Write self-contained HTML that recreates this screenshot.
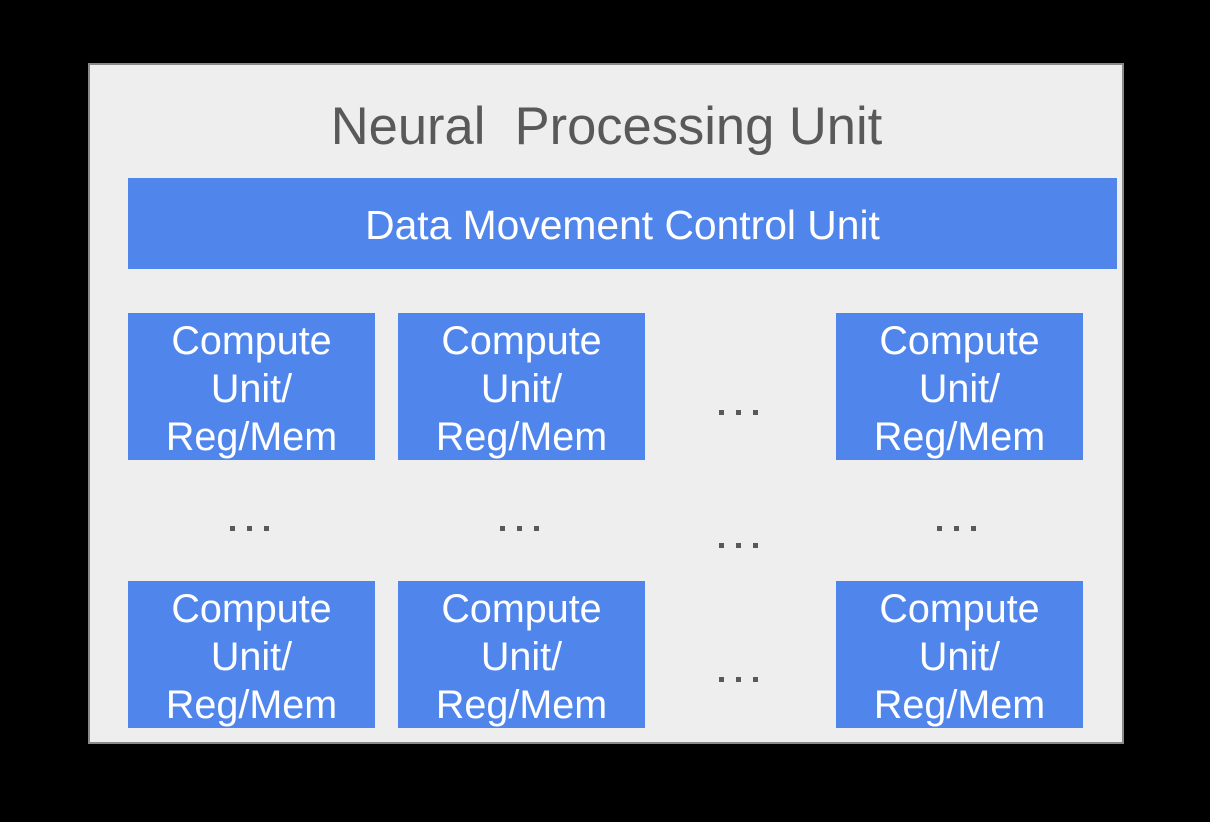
<!DOCTYPE html>
<html><head><style>
body{margin:0;background:#000;width:1210px;height:822px;position:relative;overflow:hidden;font-family:"Liberation Sans",sans-serif}
.outer{position:absolute;left:88px;top:63px;width:1032px;height:677px;background:#eeeeee;border:2px solid #8a8a8a}
.t{position:absolute;left:88px;width:1037px;top:96px;text-align:center;font-size:52.5px;color:#595959;white-space:pre}
.b{position:absolute;background:#5086ec;color:#fff;text-align:center}
.dm{left:128px;top:178px;width:989px;height:91px;line-height:95px;font-size:40.8px}
.cu{width:247px;height:147px;font-size:39.5px;line-height:48px;padding-top:4px;box-sizing:border-box}
.d{position:absolute;width:46px;height:5px}
.d i{position:absolute;top:0;width:5px;height:5px;background:#595959}
.d i:nth-child(1){left:0}.d i:nth-child(2){left:17px}.d i:nth-child(3){left:34px}
</style></head><body>
<div class="outer"></div>
<div class="t">Neural  Processing Unit</div>
<div class="b dm">Data Movement Control Unit</div>
<div class="b cu" style="left:128px;top:313px">Compute<br>Unit/<br>Reg/Mem</div>
<div class="b cu" style="left:398px;top:313px">Compute<br>Unit/<br>Reg/Mem</div>
<div class="b cu" style="left:836px;top:313px">Compute<br>Unit/<br>Reg/Mem</div>
<div class="b cu" style="left:128px;top:581px">Compute<br>Unit/<br>Reg/Mem</div>
<div class="b cu" style="left:398px;top:581px">Compute<br>Unit/<br>Reg/Mem</div>
<div class="b cu" style="left:836px;top:581px">Compute<br>Unit/<br>Reg/Mem</div>
<div class="d" style="left:719px;top:410px"><i></i><i></i><i></i></div>
<div class="d" style="left:230px;top:526px"><i></i><i></i><i></i></div>
<div class="d" style="left:500px;top:526px"><i></i><i></i><i></i></div>
<div class="d" style="left:719px;top:543px"><i></i><i></i><i></i></div>
<div class="d" style="left:937px;top:526px"><i></i><i></i><i></i></div>
<div class="d" style="left:719px;top:677px"><i></i><i></i><i></i></div>
</body></html>
